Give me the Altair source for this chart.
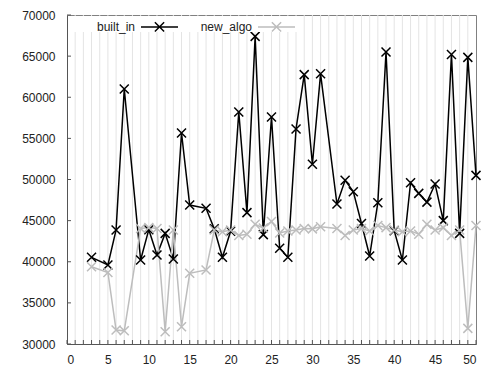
import altair as alt
import pandas as pd

xs = [3, 5, 6, 7, 9, 10, 11, 12, 13, 14, 15,
      17, 18, 19, 20, 21, 22, 23, 24, 25, 26, 27, 28, 29, 30, 31,
      33, 34, 35, 36, 37, 38, 39, 40, 41, 42, 43, 44, 45, 46, 47, 48, 49, 50]
built_in = [40540, 39600, 43860, 61000, 40210, 43900, 40820, 43450, 40330, 55650, 46900,
            46500, 44000, 40540, 43700, 58200, 45970, 67400, 43300, 57600, 41650, 40550, 56150, 62750, 51850, 62850,
            47020, 49900, 48520, 44650, 40700, 47180, 65500, 43780, 40210, 49600, 48310, 47250, 49450, 45000, 65200, 43450, 64850, 50500]
new_algo = [39400, 38700, 31700, 31600, 44050, 44150, 44050, 31500, 43850, 32100, 38600,
            39000, 43850, 43650, 43850, 43200, 43350, 44550, 44100, 44900, 43500, 43750, 43850, 44050, 44000, 44250,
            44050, 43200, 43850, 44050, 43750, 44400, 44150, 43850, 43650, 43750, 43350, 44550, 43850, 44150, 43200, 43850, 31900, 44400]
series = ["built_in", "new_algo"]
colors = ["#000000", "#bdbdbd"]
x_labels = list(range(0, 51, 5))
x_ticks = list(range(0, 51))
x_grid = list(range(1, 50))
y_ticks = list(range(30000, 70001, 5000))

rows = []
for s, vals in zip(series, [built_in, new_algo]):
    for x, v in zip(xs, vals):
        rows.append({"x": x, "value": v, "series": s})
df = pd.DataFrame(rows)

W, H = 409, 329
FONT = "Liberation Sans"
XPATH = "M-1,-1L1,1M-1,1L1,-1"
LEGPATH = "M-1,0L1,0M-0.25,-0.25L0.25,0.25M-0.25,0.25L0.25,-0.25"

xscale = alt.Scale(domain=[0, 50], nice=False, zero=False)
yscale = alt.Scale(domain=[30000, 70000], nice=False, zero=False)
xaxis = alt.Axis(values=x_labels, title=None, labelPadding=10, format="d")
yaxis = alt.Axis(values=y_ticks, title=None, labelPadding=12, format="d")

color = alt.Color("series:N", scale=alt.Scale(domain=series, range=colors),
                  legend=alt.Legend(orient="none", legendX=73, legendY=-8, direction="horizontal",
                                    title=None, symbolType=LEGPATH, symbolSize=1369,
                                    symbolStrokeWidth=1.5, labelAlign="right",
                                    labelOffset={"expr": "-44"},
                                    columnPadding=19,
                                    labelFont=FONT, labelFontSize=12,
                                    labelColor="#222", padding=0))

grid = alt.Chart(pd.DataFrame({"g": x_grid})).mark_rule(color="#e4e4e4", strokeWidth=1).encode(
    x=alt.X("g:Q", scale=xscale, axis=xaxis), y=alt.value(0), y2=alt.value(H))

base = alt.Chart(df).encode(
    x=alt.X("x:Q", scale=xscale, axis=xaxis),
    y=alt.Y("value:Q", scale=yscale, axis=yaxis),
    color=color,
)
lines = base.mark_line(strokeWidth=1.5)
points = base.mark_point(shape=XPATH, filled=False, size=81, strokeWidth=1.5, opacity=1)

legbox = alt.Chart(pd.DataFrame({"a": [0]})).mark_rect(color="white").encode(
    x=alt.value(1), x2=alt.value(230), y=alt.value(1), y2=alt.value(17))

xt = alt.Chart(pd.DataFrame({"t": x_ticks})).mark_rule(color="#555", strokeWidth=1).encode(
    x=alt.X("t:Q", scale=xscale, axis=xaxis), y=alt.value(H), y2=alt.value(H - 4))
yt = alt.Chart(pd.DataFrame({"t": y_ticks})).mark_rule(color="#555", strokeWidth=1).encode(
    y=alt.Y("t:Q", scale=yscale, axis=yaxis), x=alt.value(0), x2=alt.value(4))

chart = alt.layer(grid, lines, points, legbox, xt, yt).properties(
    width=W, height=H,
    autosize=alt.AutoSizeParams(type="none"),
    padding={"left": 59, "top": 7, "right": 16, "bottom": 23},
).configure_view(stroke="#808080", strokeWidth=1).configure_axis(
    labelFont=FONT, labelFontSize=12, labelColor="#222", domainColor="#555",
    ticks=False, grid=False,
)

chart.save("out.html", embed_options={"renderer": "svg", "actions": False})
